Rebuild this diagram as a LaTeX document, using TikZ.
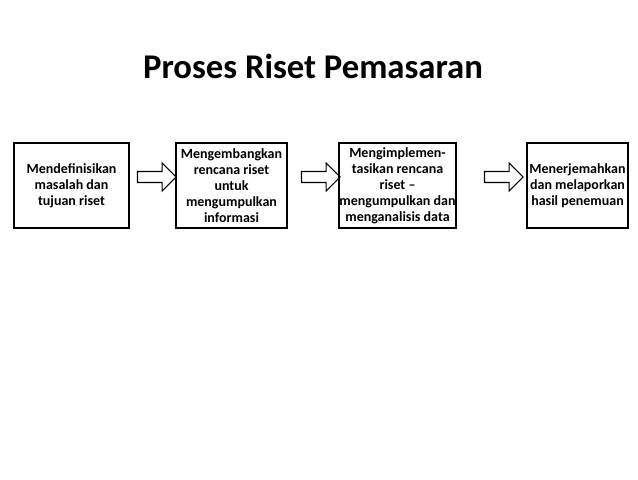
\documentclass[tikz,border=0pt]{standalone}
\usepackage{fontspec}
\setmainfont{Carlito}
\usetikzlibrary{shapes.arrows}
\begin{document}
\begin{tikzpicture}[x=0.75pt,y=-0.75pt,
  box/.style={draw,line width=1.2pt,minimum width=#1*0.75pt,minimum height=63.75pt,align=center,inner sep=0.5pt,font=\bfseries\fontsize{10.5}{12}\selectfont},
  barrow/.style={draw,line width=0.9pt,single arrow,minimum width=21pt,single arrow head extend=4.5pt,minimum height=29pt,inner sep=2.5pt}]
\useasboundingbox (0,0) rectangle (638,479);
\node[font=\bfseries\fontsize{26}{28}\selectfont] (t) at (313,66) {Proses Riset Pemasaran};
\node[box=115] (a) at (71.5,185.5) {Mendefinisikan\\masalah dan\\tujuan riset};
\node[box=111] (b) at (231.5,185.5) {Mengembangkan\\rencana riset\\untuk\\mengumpulkan\\informasi};
\node[box=117] (c) at (397.5,185.5) {Mengimplemen-\\tasikan rencana\\riset --\\mengumpulkan dan\\menganalisis data};
\node[box=101] (d) at (577.5,185.5) {Menerjemahkan\\dan melaporkan\\hasil penemuan};
\node[barrow] (p) at (154,177) {};
\node[barrow] (q) at (318,177) {};
\node[barrow] (r) at (501,177) {};
\end{tikzpicture}
\end{document}
